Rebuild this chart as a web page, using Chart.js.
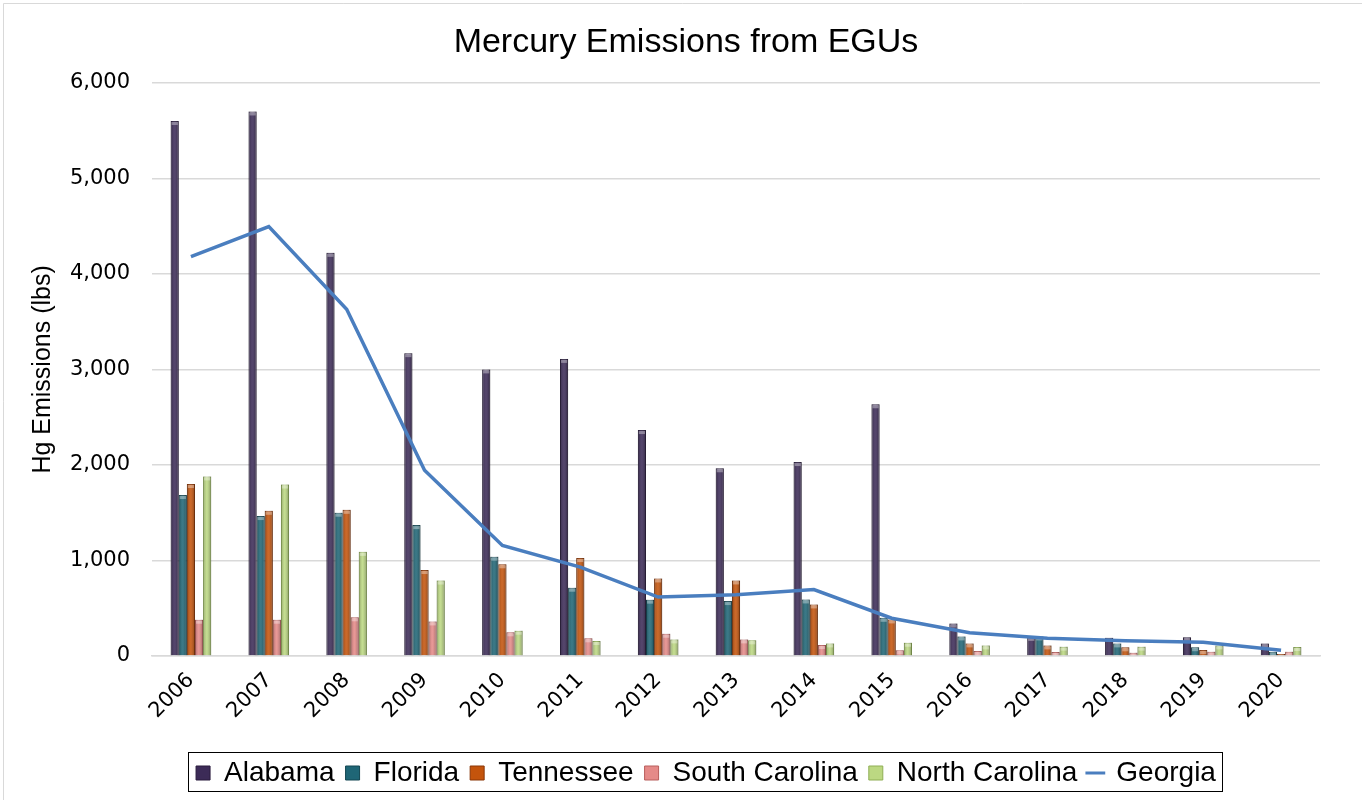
<!DOCTYPE html>
<html>
<head>
<meta charset="utf-8">
<script src="https://cdn.jsdelivr.net/npm/chart.js@4.4.0/dist/chart.umd.min.js"></script>
<style>
  html, body { margin: 0; padding: 0; background: #ffffff; }
  #wrap { width: 1362px; height: 800px; position: relative; }
</style>
</head>
<body>
<div id="wrap"><canvas id="c" width="1362" height="800"></canvas></div>
<script>
const years = ['2006','2007','2008','2009','2010','2011','2012','2013','2014','2015','2016','2017','2018','2019','2020'];
const alabama = [5600, 5700, 4220, 3170, 3000, 3110, 2365, 1965, 2030, 2635, 340, 200, 190, 195, 130];
const florida = [1685, 1465, 1500, 1370, 1040, 715, 590, 575, 592, 400, 205, 205, 132, 92, 45];
const tennessee = [1800, 1520, 1530, 900, 960, 1025, 812, 791, 540, 383, 132, 111, 91, 63, 20];
const southCarolina = [380, 380, 405, 362, 248, 185, 233, 174, 115, 60, 52, 42, 35, 45, 45];
const northCarolina = [1880, 1795, 1090, 790, 265, 157, 174, 164, 132, 139, 111, 98, 98, 111, 94];
const georgia = [4180, 4495, 3630, 1945, 1157, 930, 617, 640, 695, 395, 244, 185, 160, 145, 60];
const yTicks = [0, 1000, 2000, 3000, 4000, 5000, 6000];

const LEGEND_SHIFT = 34;
const TITLE_SHIFT = 14;

const barColors = {
  Alabama: ['#3c2b57', '#281b3c'],
  Florida: ['#1f6676', '#134652'],
  Tennessee: ['#c4540c', '#8a3606'],
  'South Carolina': ['#e58a88', '#b85e5c'],
  'North Carolina': ['#bcd882', '#8fae55']
};

function barDs(label, data) {
  return {
    type: 'bar', label, data,
    backgroundColor: barColors[label][0],
    borderColor: barColors[label][1],
    borderWidth: 1,
    order: 1
  };
}

const barShade = {
  id: 'barShade',
  afterDatasetDraw(chart, args) {
    const meta = args.meta;
    if (meta.type !== 'bar') return;
    const ctx = chart.ctx;
    ctx.save();
    meta.data.forEach(el => {
      const w = el.width, x0 = el.x - w / 2, top = Math.min(el.y, el.base), h = Math.abs(el.base - el.y);
      if (h <= 0) return;
      const g = ctx.createLinearGradient(x0, 0, x0 + w, 0);
      g.addColorStop(0, 'rgba(0,0,0,0.25)');
      g.addColorStop(0.45, 'rgba(255,255,255,0.12)');
      g.addColorStop(1, 'rgba(0,0,0,0.3)');
      ctx.fillStyle = g;
      ctx.fillRect(x0, top, w, h);
      ctx.fillStyle = 'rgba(255,255,255,0.35)';
      ctx.fillRect(x0 + 1, top + 1, w - 2, Math.min(3, h - 1));
    });
    ctx.restore();
  }
};

const shiftBoxes = {
  id: 'shiftBoxes',
  afterLayout(chart) {
    const lg = chart.legend;
    if (lg) { lg.left += LEGEND_SHIFT; lg.right += LEGEND_SHIFT; }
    const tb = chart.titleBlock;
    if (tb) { tb.left += TITLE_SHIFT; tb.right += TITLE_SHIFT; }
  }
};

const legendBorder = {
  id: 'legendBorder',
  afterDraw(chart) {
    const lg = chart.legend;
    if (!lg || !lg.legendHitBoxes || !lg.legendHitBoxes.length) return;
    const hb = lg.legendHitBoxes;
    let l = Infinity, r = -Infinity, t = Infinity, b = -Infinity;
    hb.forEach(h => { l = Math.min(l, h.left); r = Math.max(r, h.left + h.width); t = Math.min(t, h.top); b = Math.max(b, h.top + h.height); });
    if (!isFinite(l) || !isFinite(t)) return;
    const ctx = chart.ctx;
    ctx.save();
    ctx.strokeStyle = '#000000';
    ctx.lineWidth = 1;
    ctx.strokeRect(Math.round(l - 8) + 0.5, Math.round(t - 7) + 0.5, Math.round(r - l + 14), Math.round(b - t + 11));
    ctx.restore();
  }
};

const frame = {
  id: 'frame',
  beforeDraw(chart) {
    const ctx = chart.ctx;
    ctx.save();
    ctx.fillStyle = '#ffffff';
    ctx.fillRect(0, 0, chart.width, chart.height);
    ctx.strokeStyle = '#d9d9d9';
    ctx.lineWidth = 1;
    ctx.beginPath();
    ctx.moveTo(3.5, chart.height);
    ctx.lineTo(3.5, 3.5);
    ctx.lineTo(chart.width, 3.5);
    ctx.stroke();
    ctx.restore();
  }
};

new Chart(document.getElementById('c'), {
  data: {
    labels: years,
    datasets: [
      barDs('Alabama', alabama),
      barDs('Florida', florida),
      barDs('Tennessee', tennessee),
      barDs('South Carolina', southCarolina),
      barDs('North Carolina', northCarolina),
      {
        type: 'line', label: 'Georgia', data: georgia,
        borderColor: '#4a7ebf', backgroundColor: '#4a7ebf',
        borderWidth: 3.5, pointRadius: 0, tension: 0, order: 0
      }
    ]
  },
  options: {
    responsive: false,
    animation: false,
    devicePixelRatio: 1,
    layout: { padding: { left: 24, right: 42, top: 0, bottom: 3 } },
    datasets: { bar: { categoryPercentage: 0.52, barPercentage: 1.0 } },
    plugins: {
      title: {
        display: true,
        text: 'Mercury Emissions from EGUs',
        color: '#000000',
        font: { family: '"Liberation Sans", Arial, sans-serif', size: 34, weight: 'normal' },
        padding: { top: 22, bottom: 20 }
      },
      legend: {
        position: 'bottom',
        labels: {
          color: '#000000',
          font: { family: '"Liberation Sans", Arial, sans-serif', size: 28 },
          boxWidth: 14, boxHeight: 14,
          padding: 11,
          usePointStyle: true,
          generateLabels(chart) {
            return chart.data.datasets.map((ds, i) => ({
              text: ds.label,
              fillStyle: ds.type === 'line' ? ds.borderColor : ds.backgroundColor,
              strokeStyle: ds.borderColor,
              lineWidth: ds.type === 'line' ? 3 : 1,
              pointStyle: ds.type === 'line' ? 'line' : 'rect',
              hidden: false,
              datasetIndex: i,
              fontColor: '#000000'
            }));
          }
        }
      },
      tooltip: { enabled: false }
    },
    scales: {
      x: {
        grid: { display: false },
        border: { display: true, color: '#d9d9d9', width: 1.5 },
        ticks: {
          color: '#000000',
          font: { family: '"DejaVu Sans", sans-serif', size: 21 },
          minRotation: 45, maxRotation: 45, padding: 4
        },
        afterFit(s) { s.height = 92; }
      },
      y: {
        min: 0, max: 6000,
        afterBuildTicks(s) { s.ticks = yTicks.map(v => ({ value: v })); },
        grid: { color: '#d9d9d9', lineWidth: 1.5, drawTicks: false },
        border: { display: false },
        ticks: {
          color: '#000000',
          font: { family: '"DejaVu Sans", sans-serif', size: 21 },
          padding: 22,
          callback: v => Number(v).toLocaleString('en-US')
        },
        title: {
          display: true,
          text: 'Hg Emissions (lbs)',
          color: '#000000',
          font: { family: '"Liberation Sans", Arial, sans-serif', size: 25 },
          padding: { top: 4, bottom: 4 }
        },
        afterFit(s) { s.width = 128; }
      }
    }
  },
  plugins: [frame, shiftBoxes, barShade, legendBorder]
});
</script>
</body>
</html>
